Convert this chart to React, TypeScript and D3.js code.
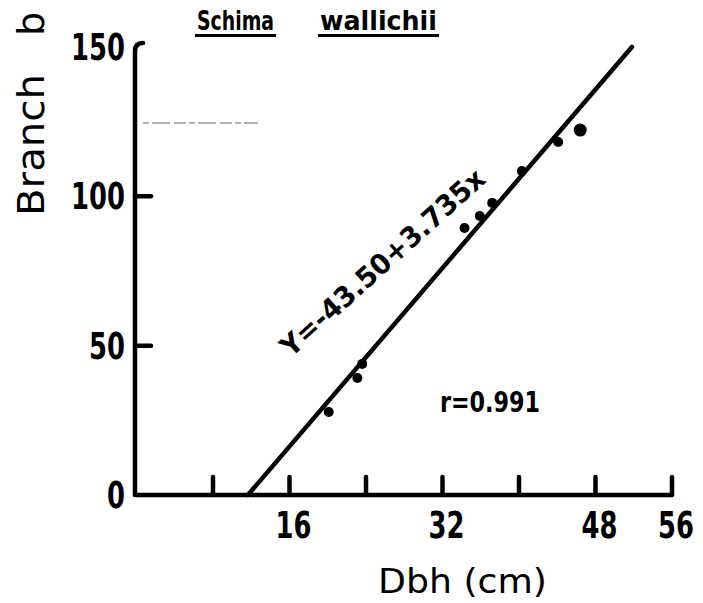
import React from "react";
import * as d3 from "d3";

// Dbh (cm) and branch biomass observations
const dbh = [20.1, 23.1, 23.6, 34.3, 35.9, 37.2, 40.3, 44.1, 46.4];
const branch = [27.8, 39.2, 43.9, 89.4, 93.4, 97.8, 108.5, 118.2, 122.2];

// Fitted regression Y = a + b x
const intercept = -43.5;
const slope = 3.735;
const rValue = 0.991;

const xTicks = [8, 16, 24, 32, 40, 48, 56];
const xTickLabels = [16, 32, 48, 56];
const yTicks = [0, 50, 100, 150];

const W = 703;
const H = 603;
const FONT = "'DejaVu Sans', 'Liberation Sans', sans-serif";

export default function App() {
  const x = d3.scaleLinear().domain([0, 56]).range([136.5, 672]);
  const y = d3.scaleLinear().domain([0, 150]).range([495, 47]);

  const fit = (v: number) => intercept + slope * v;
  const x0 = -intercept / slope;
  const x1 = (150 - intercept) / slope;
  const linePath = d3.line<number>()
    .x((d) => x(d))
    .y((d) => y(fit(d)))([x0, x1]) as string;

  const axisW = 4.5;
  const tickLen = 18;
  const x0px = 135;
  const narrow = 0.68;

  return (
    <svg
      width={W}
      height={H}
      style={{ position: "absolute", left: 0, top: 0, background: "#fff" }}
      fontFamily={FONT}
    >
      {/* title */}
      <g fontSize={27} fontWeight="bold" fill="#000">
        <text x={197} y={30} textLength={77} lengthAdjust="spacingAndGlyphs">
          Schima
        </text>
        <text x={320} y={30} textLength={117} lengthAdjust="spacingAndGlyphs">
          wallichii
        </text>
        <line x1={195} x2={276} y1={35.5} y2={35.5} stroke="#000" strokeWidth={3} />
        <line x1={318} x2={439} y1={35.5} y2={35.5} stroke="#000" strokeWidth={3} />
      </g>

      {/* y axis title */}
      <g fontSize={38} fill="#000">
        <text
          transform="translate(44, 216) rotate(-90)"
          textLength={142}
          lengthAdjust="spacingAndGlyphs"
        >
          Branch
        </text>
        <text transform="translate(44, 36) rotate(-90)">b</text>
      </g>

      {/* faint stray rule */}
      <line
        x1={143}
        x2={258}
        y1={123}
        y2={123}
        stroke="#666"
        strokeWidth={1.2}
        strokeDasharray="6 3 18 4 12 3"
      />

      {/* axes */}
      <path
        d={`M${x0px + 8},${y(150) - 4} Q${x0px},${y(150) - 4} ${x0px},${y(150) + 4} V${y(0)} H${x(56)} V${y(0) - tickLen}`}
        fill="none"
        stroke="#000"
        strokeWidth={axisW}
        strokeLinejoin="round"
        strokeLinecap="round"
      />
      {yTicks.filter((t) => t > 0 && t < 150).map((t) => (
        <line
          key={`yt${t}`}
          x1={x0px}
          x2={x0px + 16}
          y1={y(t)}
          y2={y(t)}
          stroke="#000"
          strokeWidth={axisW}
          strokeLinecap="round"
        />
      ))}
      {xTicks.filter((t) => t < 56).map((t) => (
        <line
          key={`xt${t}`}
          x1={x(t)}
          x2={x(t)}
          y1={y(0)}
          y2={y(0) - tickLen}
          stroke="#000"
          strokeWidth={axisW}
          strokeLinecap="round"
        />
      ))}

      {/* tick labels */}
      <g fontSize={38} fontWeight="bold" fill="#000">
        {yTicks.map((t) => (
          <text
            key={`yl${t}`}
            transform={`translate(125, ${y(t) + 13}) scale(${narrow}, 1)`}
            textAnchor="end"
          >
            {t}
          </text>
        ))}
        {xTickLabels.map((t) => (
          <text
            key={`xl${t}`}
            transform={`translate(${x(t) + 4}, 538) scale(${narrow}, 1)`}
            textAnchor="middle"
          >
            {t}
          </text>
        ))}
      </g>

      {/* x axis title */}
      <text x={378} y={593} fontSize={34} fill="#000" textLength={169} lengthAdjust="spacingAndGlyphs">
        Dbh (cm)
      </text>

      {/* regression line */}
      <path d={linePath} fill="none" stroke="#000" strokeWidth={4.5} strokeLinecap="round" />

      {/* observations */}
      {dbh.map((d, i) => (
        <circle
          key={`p${i}`}
          cx={x(d)}
          cy={y(branch[i])}
          r={i === dbh.length - 1 ? 6.5 : 5}
          fill="#000"
        />
      ))}

      {/* equation */}
      <text
        transform="translate(291, 358) rotate(-42)"
        fontSize={28}
        fontWeight="bold"
        fill="#000"
        textLength={264}
        lengthAdjust="spacingAndGlyphs"
      >
        {`Y=-43.50+${slope}x`}
      </text>

      {/* correlation */}
      <text
        x={440}
        y={412}
        fontSize={28}
        fontWeight="bold"
        fill="#000"
        textLength={100}
        lengthAdjust="spacingAndGlyphs"
      >
        {`r=${rValue}`}
      </text>
    </svg>
  );
}
